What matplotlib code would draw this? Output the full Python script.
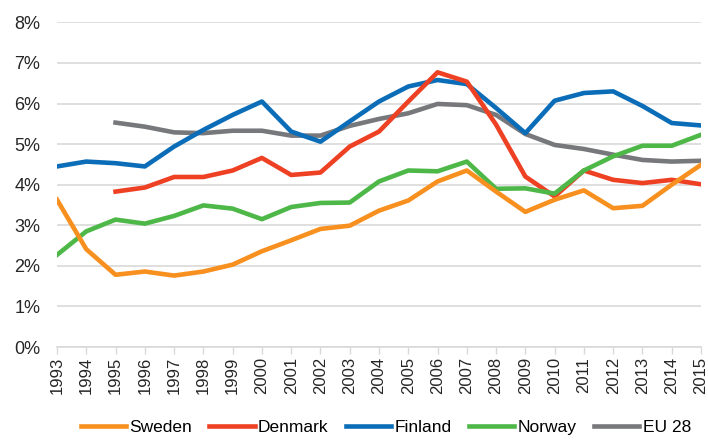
import matplotlib
matplotlib.use("Agg")
import matplotlib.pyplot as plt
import numpy as np

plt.rcParams['font.family'] = ['Liberation Sans', 'DejaVu Sans']

years = list(range(1993, 2016))
years_from_1995 = list(range(1995, 2016))

sweden = [3.63, 2.41, 1.78, 1.86, 1.76, 1.86, 2.03, 2.36, 2.63, 2.91, 2.99,
          3.36, 3.61, 4.08, 4.35, 3.83, 3.33, 3.63, 3.86, 3.42, 3.48, 4.00, 4.49]
norway = [2.27, 2.85, 3.14, 3.04, 3.23, 3.49, 3.41, 3.15, 3.45, 3.55, 3.56,
          4.08, 4.35, 4.33, 4.57, 3.90, 3.91, 3.78, 4.35, 4.70, 4.96, 4.96, 5.23]
finland = [4.45, 4.57, 4.53, 4.45, 4.94, 5.35, 5.72, 6.05, 5.31, 5.06, 5.56,
           6.05, 6.42, 6.58, 6.48, 5.89, 5.27, 6.07, 6.26, 6.30, 5.94, 5.52, 5.46]
denmark = [3.83, 3.93, 4.19, 4.19, 4.35, 4.66, 4.24, 4.30, 4.94,
           5.31, 6.05, 6.77, 6.54, 5.48, 4.20, 3.71, 4.35, 4.12, 4.04, 4.12, 4.01]
eu28 = [5.53, 5.43, 5.29, 5.27, 5.33, 5.33, 5.21, 5.21, 5.45,
        5.62, 5.76, 5.99, 5.96, 5.72, 5.25, 4.98, 4.88, 4.74, 4.61, 4.57, 4.59]

fig = plt.figure(figsize=(7.08, 4.41), dpi=100)
ax = fig.add_axes([57 / 708, 1 - 347 / 441, 644 / 708, 324.6 / 441])

lw = 3.3
ax.plot(years, finland, color='#0B6DB7', lw=lw, label='Finland', zorder=3)
ax.plot(years_from_1995, eu28, color='#77787B', lw=lw, label='EU 28', zorder=2)
ax.plot(years_from_1995, denmark, color='#EE4023', lw=lw, label='Denmark', zorder=4)
ax.plot(years, norway, color='#4DB848', lw=lw, label='Norway', zorder=5)
ax.plot(years, sweden, color='#F7901E', lw=lw, label='Sweden', zorder=6)

ax.set_xlim(1993, 2015)
ax.set_ylim(0, 8)
ax.set_yticks(np.arange(0, 9))
ax.set_yticklabels([f"{i}%" for i in range(9)], fontsize=13, color='#262626')
ax.set_xticks(years)
ax.set_xticklabels([str(y) for y in years], rotation=90, fontsize=12, color='#262626')
ax.grid(axis='y', color='#D9D9D9', lw=1.2)
ax.set_axisbelow(True)
for s in ['top', 'right', 'left']:
    ax.spines[s].set_visible(False)
ax.spines['bottom'].set_color('#D9D9D9')
ax.spines['bottom'].set_linewidth(1.2)
ax.tick_params(axis='y', length=0, pad=12)
ax.tick_params(axis='x', length=5, color='#D9D9D9', width=1, pad=2)

handles, labels = ax.get_legend_handles_labels()
order = ['Sweden', 'Denmark', 'Finland', 'Norway', 'EU 28']
hmap = dict(zip(labels, handles))
fig.legend([hmap[k] for k in order], order, loc='lower center', ncol=5,
           bbox_to_anchor=(0.545, -0.022), frameon=False, fontsize=12.5,
           handlelength=2.6, handletextpad=0.2, columnspacing=1.0)

fig.savefig('out.png', dpi=100)
